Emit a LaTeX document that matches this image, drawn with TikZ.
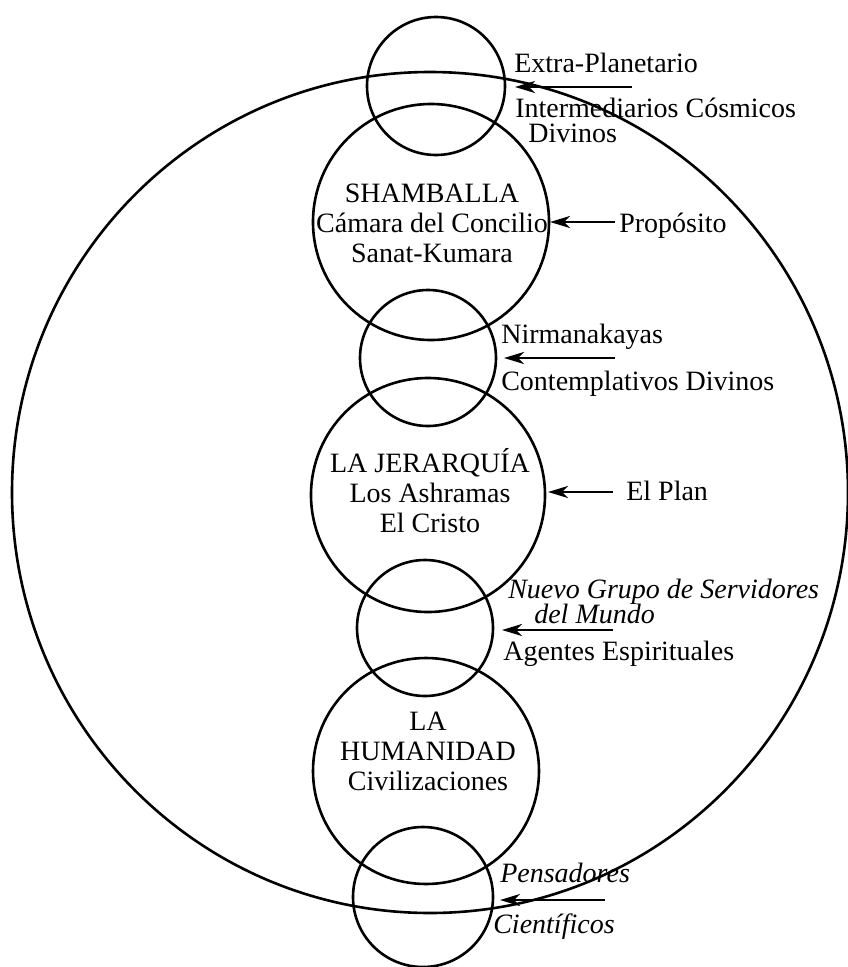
\documentclass[tikz,border=0pt]{standalone}
\usepackage{fontspec}
\setmainfont{Liberation Serif}
\usetikzlibrary{arrows.meta}

\begin{document}
\begin{tikzpicture}[x=1pt, y=-1pt, line width=2.6pt,
    every node/.style={font=\fontsize{28}{30}\selectfont, inner sep=0pt},
    ring/.style={draw, circle, minimum size=#1, outer sep=0pt},
    pointer/.style={-{Stealth[length=20pt, width=12pt, inset=6pt]}, line width=2.8pt},
    lbl/.style={anchor=base west}]
    \useasboundingbox (0,0) rectangle (847,967);

    % the whole circle
    \draw (430,492.5) ellipse [x radius=418, y radius=420.5];

    % the column of circles
    \node[ring=138pt] (extra) at (436,86) {};
    \node[ring=236pt] (shamb) at (431,222) {};
    \node[ring=136pt] (nirm)  at (428,358) {};
    \node[ring=234pt] (jerar) at (428,495) {};
    \node[ring=136pt] (ngsm)  at (425,628) {};
    \node[ring=226pt] (human) at (426,771) {};
    \node[ring=140pt] (pens)  at (423,897) {};

    \node[align=center] (shambtxt) at (432,223) {SHAMBALLA\\Cámara del Concilio\\Sanat-Kumara};
    \node[align=center] (jerartxt) at (430,491) {LA JERARQUÍA\\Los Ashramas\\El Cristo};
    \node[align=center] (humantxt) at (428,751) {LA\\HUMANIDAD\\Civilizaciones};

    % labels on the right
    \node[lbl] (extraA) at (513,72)  {Extra-Planetario};
    \node[lbl] (extraB) at (514,117) {Intermediarios Cósmicos};
    \node[lbl] (extraC) at (527,142) {Divinos};
    \node[lbl] (prop)   at (618,232) {Propósito};
    \node[lbl] (nirmA)  at (500,343) {Nirmanakayas};
    \node[lbl] (nirmB)  at (500,390) {Contemplativos Divinos};
    \node[lbl] (plan)   at (625,500) {El Plan};
    \node[lbl] (ngsmA)  at (507,598) {\itshape Nuevo Grupo de Servidores};
    \node[lbl] (ngsmB)  at (533,623) {\itshape del Mundo};
    \node[lbl] (ngsmC)  at (502,660) {Agentes Espirituales};
    \node[lbl] (pensA)  at (499,882) {\itshape Pensadores};
    \node[lbl] (pensB)  at (492,933) {\itshape Científicos};

    % arrows
    \coordinate (tExtra) at (632,87);
    \coordinate (tProp)  at (615,222);
    \coordinate (tNirm)  at (615,358);
    \coordinate (tPlan)  at (613,492);
    \coordinate (tNgsm)  at (613,630);
    \coordinate (tPens)  at (605,900);
    \draw[pointer, shorten >=10pt] (tExtra) -- (tExtra -| extra.east);
    \draw[pointer, shorten >=1pt]  (tProp)  -- (tProp -| shamb.east);
    \draw[pointer, shorten >=8pt]  (tNirm)  -- (tNirm -| nirm.east);
    \draw[pointer, shorten >=3pt]  (tPlan)  -- (tPlan -| jerar.east);
    \draw[pointer, shorten >=9pt]  (tNgsm)  -- (tNgsm -| ngsm.east);
    \draw[pointer, shorten >=7pt]  (tPens)  -- (tPens -| pens.east);
\end{tikzpicture}
\end{document}
